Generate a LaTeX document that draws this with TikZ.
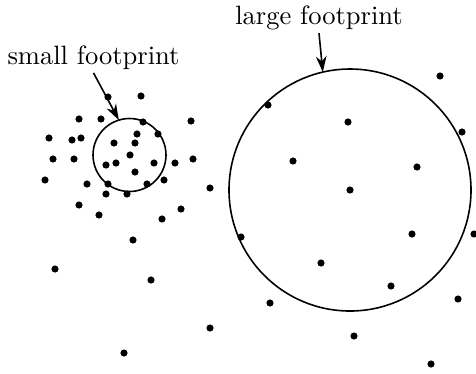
\documentclass[tikz,border=0pt]{standalone}
\usetikzlibrary{arrows.meta, positioning}
\tikzset{
  fprint/.style={draw, circle, line width=0.6pt, inner sep=0pt, outer sep=0pt,
                 minimum size=#1},
  lbl/.style={anchor=base, inner sep=1.2pt, font=\normalsize},
  ptr/.style={-{Stealth[length=6pt, width=4pt]}, line width=0.6pt},
  pt/.style={fill=black},
}

\begin{document}
\begin{tikzpicture}[x=0.377pt, y=-0.377pt]
  \useasboundingbox (0,0) rectangle (476,373);
  % the two footprints
  \node[fprint=73*0.377pt]  (small) at (129.5,155) {};
  \node[fprint=242*0.377pt] (large) at (350,190) {};
  % sample points
  \foreach \px/\py in {108/97, 141/96, 79/119, 101/119, 143/122, 191/121,
      49/138, 72/140, 81/138, 137/134, 158/134, 114/143, 135/143, 130/155,
      53/159, 74/159, 106/165, 116/163, 154/163, 175/163, 193/159, 45/180,
      135/172, 87/184, 108/184, 147/184, 164/180, 210/188, 106/194, 127/194,
      79/205, 99/215, 181/209, 162/219, 133/240,
      440/76, 268/105, 348/122, 462/132, 293/161, 417/167, 350/190, 241/237,
      412/234, 474/234, 55/269, 321/263, 151/280, 391/286, 270/303, 458/299,
      210/328, 354/336, 124/353, 431/364}
    \fill[pt] (\px,\py) circle (1.35pt);
  % labels
  \node[lbl] (smalllbl) at (93.5,64) {small footprint};
  \node[lbl] (largelbl) at (319,24) {large footprint};
  \draw[ptr] (smalllbl.south) -- (small.107);
  \draw[ptr] (largelbl.south) -- (large.103);
\end{tikzpicture}
\end{document}
